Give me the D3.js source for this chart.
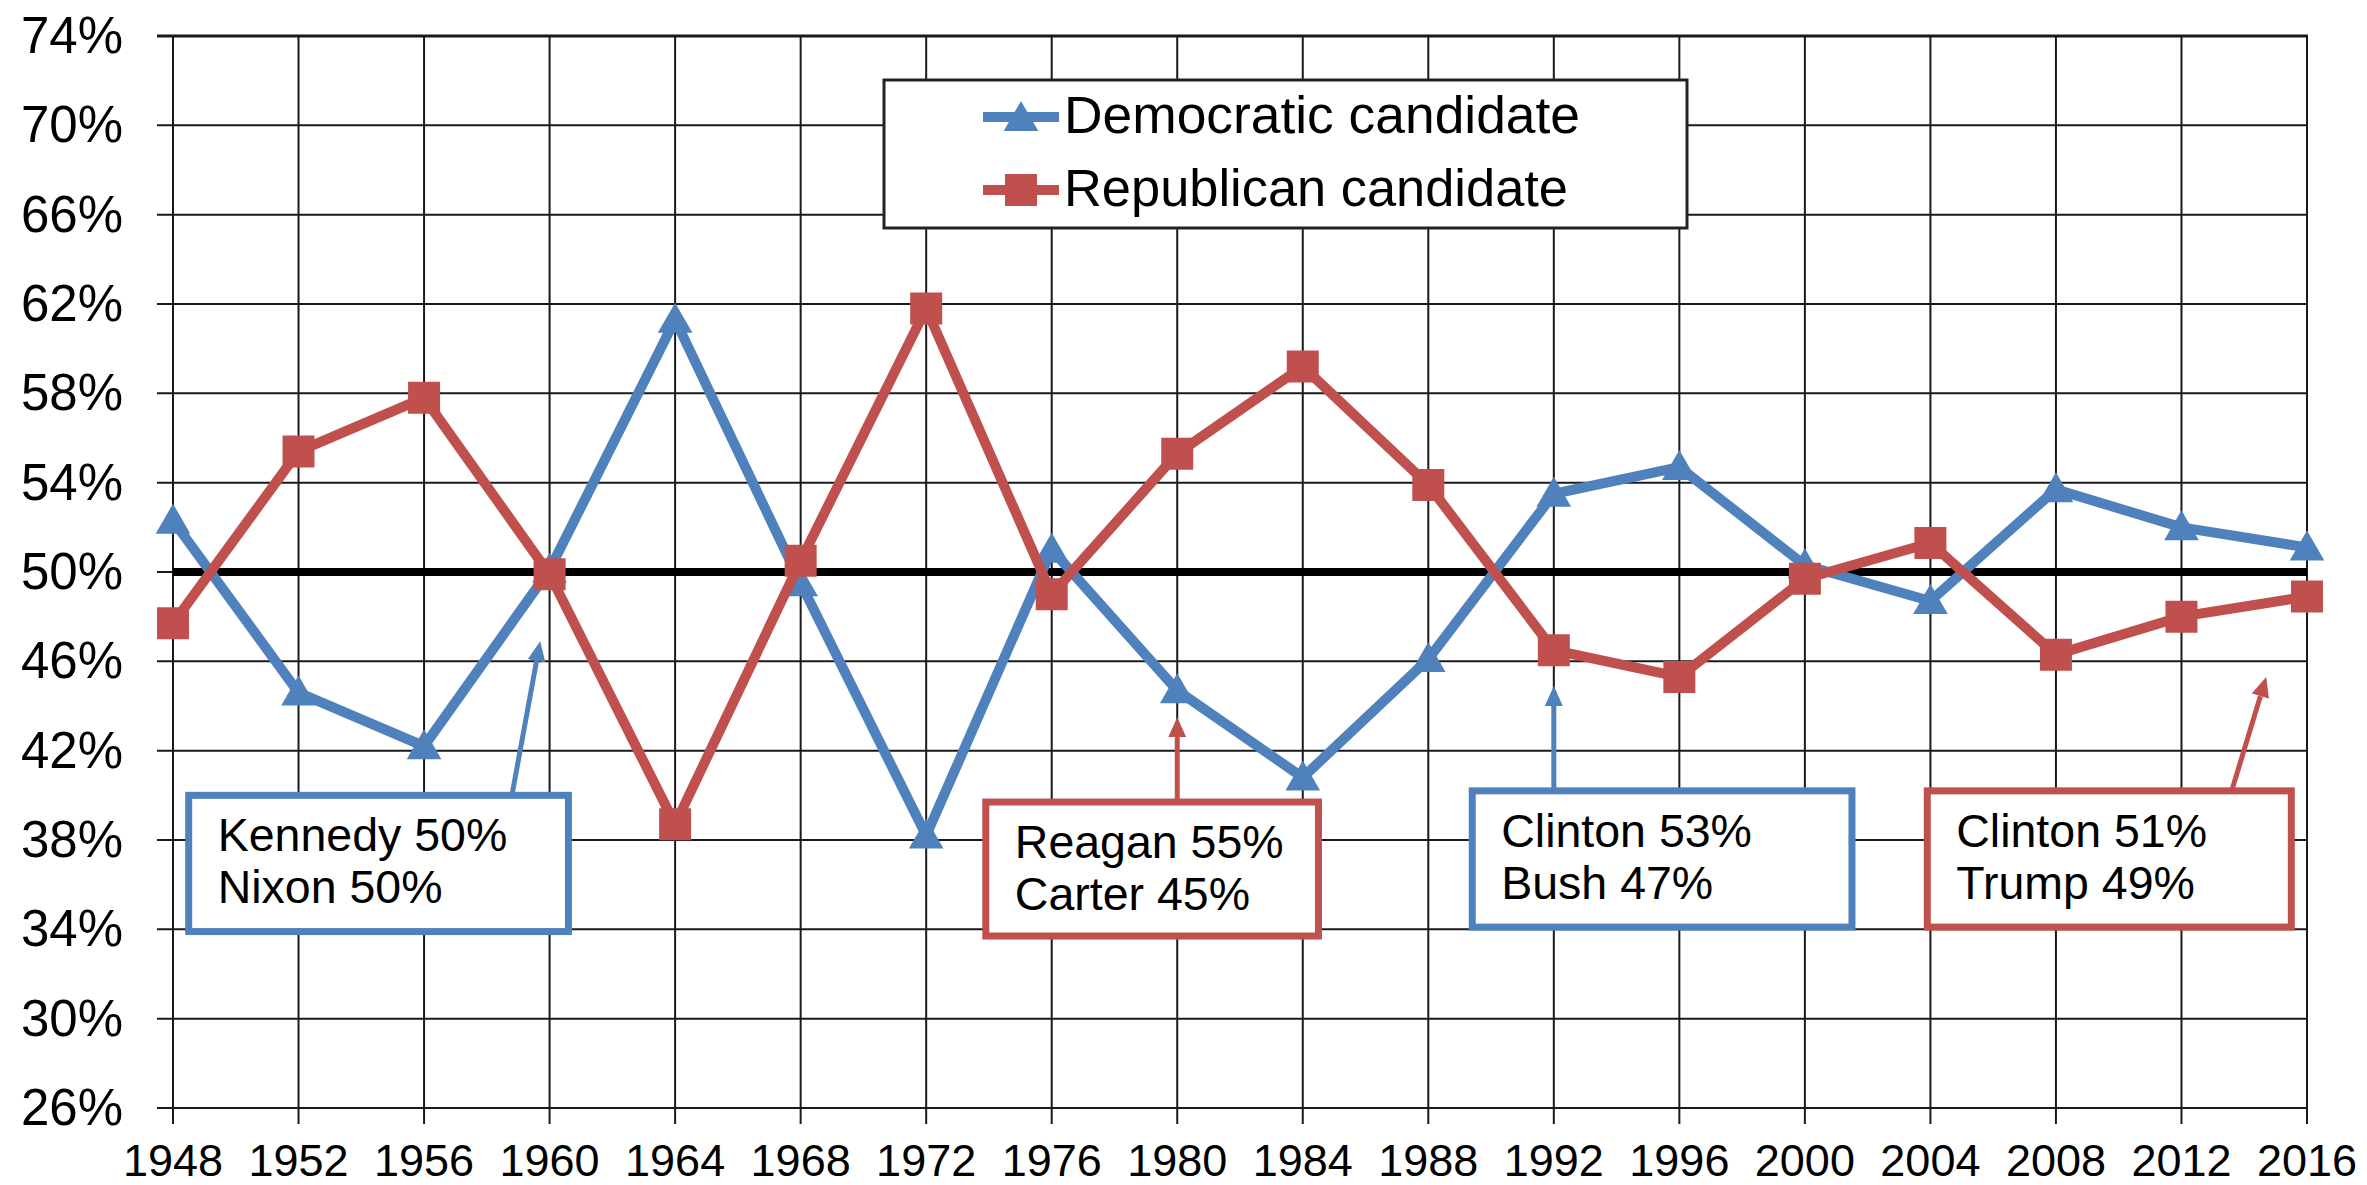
<!DOCTYPE html>
<html>
<head>
<meta charset="utf-8">
<script src="https://cdn.jsdelivr.net/npm/d3@7"></script>
<style>
  html, body { margin: 0; padding: 0; background: #fff; }
  svg { display: block; font-family: "Liberation Sans", Arial, sans-serif; }
</style>
</head>
<body>
<div id="chart"></div>
<script>
"use strict";

// two-party popular vote share
var years = [1948, 1952, 1956, 1960, 1964, 1968, 1972, 1976, 1980, 1984, 1988, 1992, 1996, 2000, 2004, 2008, 2012, 2016];
var demShare = [52.3, 44.6, 42.2, 50.1, 61.3, 49.5, 38.2, 51.0, 44.7, 40.8, 46.1, 53.5, 54.7, 50.3, 48.7, 53.7, 52.0, 51.1];
var repShare = [47.7, 55.4, 57.8, 49.9, 38.7, 50.5, 61.8, 49.0, 55.3, 59.2, 53.9, 46.5, 45.3, 49.7, 51.3, 46.3, 48.0, 48.9];
var yTicks = [26, 30, 34, 38, 42, 46, 50, 54, 58, 62, 66, 70, 74];
var seriesNames = ["Democratic candidate", "Republican candidate"];

// callouts: text lines, party, arrow base year, arrow tip (year, share)
var calloutLines = [
  ["Kennedy 50%", "Nixon 50%"],
  ["Reagan 55%", "Carter 45%"],
  ["Clinton 53%", "Bush 47%"],
  ["Clinton 51%", "Trump 49%"]
];
var calloutParty = ["dem", "rep", "dem", "rep"];
var calloutBaseYear = [1958.8, 1980, 1992, 2013.6];
var calloutTipYear = [1959.7, 1980, 1992, 2014.7];
var calloutTipShare = [46.9, 43.5, 44.9, 45.3];

var width = 2367, height = 1185;
var blue = "#4f81bd", red = "#c0504d";

var svg = d3.select("#chart").append("svg")
  .attr("width", width)
  .attr("height", height);

var x = d3.scaleLinear().domain([1948, 2016]).range([173, 2307]);
var y = d3.scaleLinear().domain([26, 74]).range([1108, 36]);

var defs = svg.append("defs");
[["dem", blue], ["rep", red]].forEach(function (p) {
  defs.append("marker")
    .attr("id", "head-" + p[0])
    .attr("markerUnits", "userSpaceOnUse")
    .attr("viewBox", "0 0 20 18")
    .attr("refX", 0).attr("refY", 9)
    .attr("markerWidth", 20).attr("markerHeight", 18)
    .attr("orient", "auto")
    .append("path")
    .attr("d", "M0,0 L20,9 L0,18 Z")
    .attr("fill", p[1]);
});

// grid
var grid = svg.append("g");
grid.selectAll(".hgrid")
  .data(yTicks)
  .enter().append("line")
  .attr("x1", 157).attr("x2", x(2016) + 1)
  .attr("y1", function (d) { return y(d); })
  .attr("y2", function (d) { return y(d); })
  .attr("stroke", "#1a1a1a")
  .attr("stroke-width", function (d) { return d == 74 ? 3 : 2; });

grid.selectAll(".vgrid")
  .data(years)
  .enter().append("line")
  .attr("x1", function (d) { return x(d); })
  .attr("x2", function (d) { return x(d); })
  .attr("y1", y(74)).attr("y2", y(26) + 16)
  .attr("stroke", "#1a1a1a")
  .attr("stroke-width", 2);

// y labels
svg.append("g").selectAll("text")
  .data(yTicks)
  .enter().append("text")
  .attr("x", 123)
  .attr("y", function (d) { return y(d) + 17; })
  .attr("text-anchor", "end")
  .attr("font-size", 51)
  .attr("fill", "#000")
  .text(function (d) { return d + "%"; });

// x labels
svg.append("g").selectAll("text")
  .data(years)
  .enter().append("text")
  .attr("x", function (d) { return x(d); })
  .attr("y", 1176)
  .attr("text-anchor", "middle")
  .attr("font-size", 45)
  .attr("fill", "#000")
  .text(function (d) { return d; });

// 50% line
svg.append("line")
  .attr("x1", x(1948)).attr("x2", x(2016))
  .attr("y1", y(50)).attr("y2", y(50))
  .attr("stroke", "#000")
  .attr("stroke-width", 8);

var line = d3.line()
  .x(function (d) { return x(d.year); })
  .y(function (d) { return y(d.value); });

function series(values) {
  return years.map(function (yr, i) { return { year: yr, value: values[i] }; });
}

var triangle = d3.symbol().type(d3.symbolTriangle).size(520);
var square = d3.symbol().type(d3.symbolSquare).size(1024);

function drawSeries(values, color, symbol, dy) {
  var g = svg.append("g");
  g.append("path")
    .datum(series(values))
    .attr("d", line)
    .attr("fill", "none")
    .attr("stroke", color)
    .attr("stroke-width", 10)
    .attr("stroke-linejoin", "miter");
  g.selectAll(".pt")
    .data(series(values))
    .enter().append("path")
    .attr("transform", function (d) { return "translate(" + x(d.year) + "," + (y(d.value) + dy) + ")"; })
    .attr("d", symbol)
    .attr("fill", color);
}

drawSeries(demShare, blue, triangle, 3);
drawSeries(repShare, red, square, 0);

// callouts
var boxYear0 = [1948.5, 1973.9, 1989.4, 2003.9];
var boxYear1 = [1960.6, 1984.5, 2001.5, 2015.5];
var boxTop = [40.0, 39.7, 40.2, 40.2];
var boxBottom = [33.9, 33.7, 34.1, 34.1];

calloutLines.forEach(function (lines, i) {
  var color = calloutParty[i] == "dem" ? blue : red;
  var g = svg.append("g");
  var bx = x(boxYear0[i]), by = y(boxTop[i]);
  var bw = x(boxYear1[i]) - bx, bh = y(boxBottom[i]) - by;

  // arrow, shortened so the head ends on the tip
  var x0 = x(calloutBaseYear[i]), y0 = by;
  var x1 = x(calloutTipYear[i]), y1 = y(calloutTipShare[i]);
  var len = Math.sqrt((x1 - x0) * (x1 - x0) + (y1 - y0) * (y1 - y0));
  var k = (len - 20) / len;
  g.append("line")
    .attr("x1", x0).attr("y1", y0)
    .attr("x2", x0 + (x1 - x0) * k).attr("y2", y0 + (y1 - y0) * k)
    .attr("stroke", color)
    .attr("stroke-width", 5)
    .attr("marker-end", "url(#head-" + calloutParty[i] + ")");

  g.append("rect")
    .attr("x", bx).attr("y", by)
    .attr("width", bw).attr("height", bh)
    .attr("fill", "#fff")
    .attr("stroke", color)
    .attr("stroke-width", 7);

  g.selectAll("text")
    .data(lines)
    .enter().append("text")
    .attr("x", bx + 29)
    .attr("y", function (d, j) { return by + 56 + j * 52; })
    .attr("font-size", 46.5)
    .attr("fill", "#000")
    .text(function (d) { return d; });
});

// legend
var legend = svg.append("g");
legend.append("rect")
  .attr("x", 884).attr("y", 80)
  .attr("width", 803).attr("height", 148)
  .attr("fill", "#fff")
  .attr("stroke", "#222")
  .attr("stroke-width", 3);

var legendItems = legend.selectAll(".item")
  .data(seriesNames)
  .enter().append("g")
  .attr("transform", function (d, i) { return "translate(0," + (i * 73) + ")"; });

legendItems.append("line")
  .attr("x1", 983).attr("x2", 1059)
  .attr("y1", 117).attr("y2", 117)
  .attr("stroke", function (d, i) { return i == 0 ? blue : red; })
  .attr("stroke-width", 10);

legendItems.append("path")
  .attr("transform", function (d, i) { return "translate(1021," + (i == 0 ? 121 : 117) + ")"; })
  .attr("d", function (d, i) { return i == 0 ? d3.symbol().type(d3.symbolTriangle).size(520)() : square(); })
  .attr("fill", function (d, i) { return i == 0 ? blue : red; });

legendItems.append("text")
  .attr("x", 1064)
  .attr("y", 133)
  .attr("font-size", 51)
  .attr("textLength", function (d, i) { return i == 0 ? 516 : 504; })
  .attr("lengthAdjust", "spacingAndGlyphs")
  .attr("fill", "#000")
  .text(function (d) { return d; });
</script>
</body>
</html>
